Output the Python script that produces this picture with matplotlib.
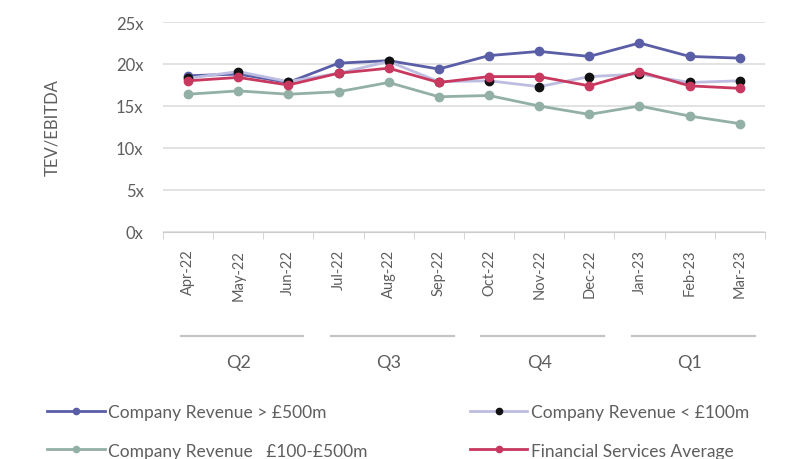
#!/usr/bin/env python3
"""TEV/EBITDA multiples by company revenue band, Apr-22 to Mar-23."""

import matplotlib

matplotlib.use("Agg")
import matplotlib.pyplot as plt
from matplotlib.lines import Line2D

months = ["Apr-22", "May-22", "Jun-22", "Jul-22", "Aug-22", "Sep-22",
          "Oct-22", "Nov-22", "Dec-22", "Jan-23", "Feb-23", "Mar-23"]
quarters = ["Q2", "Q3", "Q4", "Q1"]
yticks = [0, 5, 10, 15, 20, 25]
ytick_labels = ["0x", "5x", "10x", "15x", "20x", "25x"]

rev_over_500 = [18.6, 18.8, 17.8, 20.1, 20.4, 19.4, 21.0, 21.5, 20.9, 22.5, 20.9, 20.7]
rev_under_100 = [18.3, 19.1, 17.9, 18.9, 20.3, 17.9, 18.0, 17.3, 18.5, 18.8, 17.8, 18.0]
rev_100_500 = [16.4, 16.8, 16.4, 16.7, 17.8, 16.1, 16.25, 15.0, 14.0, 15.0, 13.8, 12.9]
fs_average = [18.0, 18.4, 17.5, 18.9, 19.5, 17.8, 18.5, 18.5, 17.4, 19.1, 17.4, 17.1]

TEXT = "#5e5e5e"
plt.rcParams["font.family"] = ["Lato", "DejaVu Sans"]

fig = plt.figure(figsize=(7.93, 4.6), dpi=100)
ax = fig.add_axes([0.2055, 0.4935, 0.759, 0.4565])

x = list(range(len(months)))
series = [
    (rev_over_500, "#5a5ea6", "#5a5ea6", "Company Revenue > £500m"),
    (rev_100_500, "#93b0a6", "#93b0a6", "Company Revenue   £100-£500m"),
    (rev_under_100, "#bcbde0", "#111111", "Company Revenue < £100m"),
    (fs_average, "#c8385f", "#c8385f", "Financial Services Average"),
]
handles = []
for vals, lc, mc, label in series:
    ax.plot(x, vals, color=lc, linewidth=2, marker="o", markersize=6,
            markerfacecolor=mc, markeredgecolor=mc, zorder=3)
    handles.append(Line2D([0], [0], color=lc, linewidth=2, marker="o",
                          markersize=4.5, markerfacecolor=mc,
                          markeredgecolor=mc, label=label))

ax.set_xlim(-0.5, len(months) - 0.5)
ax.set_ylim(0, 25)
ax.set_yticks(yticks)
ax.set_yticklabels(ytick_labels, fontsize=12, color=TEXT)
ax.grid(axis="y", color="#dddddd", linewidth=1.2)
ax.set_axisbelow(True)
ax.tick_params(axis="y", length=0, pad=14)

ax.set_xticks(x)
ax.set_xticklabels(months, rotation=90, fontsize=10.5, color=TEXT)
ax.set_xticks([i - 0.5 for i in range(len(months) + 1)], minor=True)
ax.tick_params(axis="x", which="major", length=0, pad=12)
ax.tick_params(axis="x", which="minor", length=5, color="#cccccc")

for side in ["top", "right", "left"]:
    ax.spines[side].set_visible(False)
ax.spines["bottom"].set_color("#cccccc")

ax.set_ylabel("TEV/EBITDA", fontsize=12, color=TEXT, labelpad=40)

trans = ax.get_xaxis_transform()
for q, name in enumerate(quarters):
    start = q * 3
    ax.plot([start - 0.15, start + 2.3], [-0.495, -0.495], transform=trans,
            color="#c4c4c4", linewidth=1.6, clip_on=False)
    ax.text(start + 1, -0.62, name, transform=trans, ha="center", va="center",
            fontsize=13, color=TEXT)

fig.legend(handles=handles, ncol=2, loc="lower left",
           bbox_to_anchor=(0.04, -0.033), frameon=False, fontsize=12.5,
           labelcolor=TEXT, handlelength=3.3, handletextpad=0.2,
           columnspacing=5.9, labelspacing=1.3)

fig.savefig("out.png", dpi=100)
